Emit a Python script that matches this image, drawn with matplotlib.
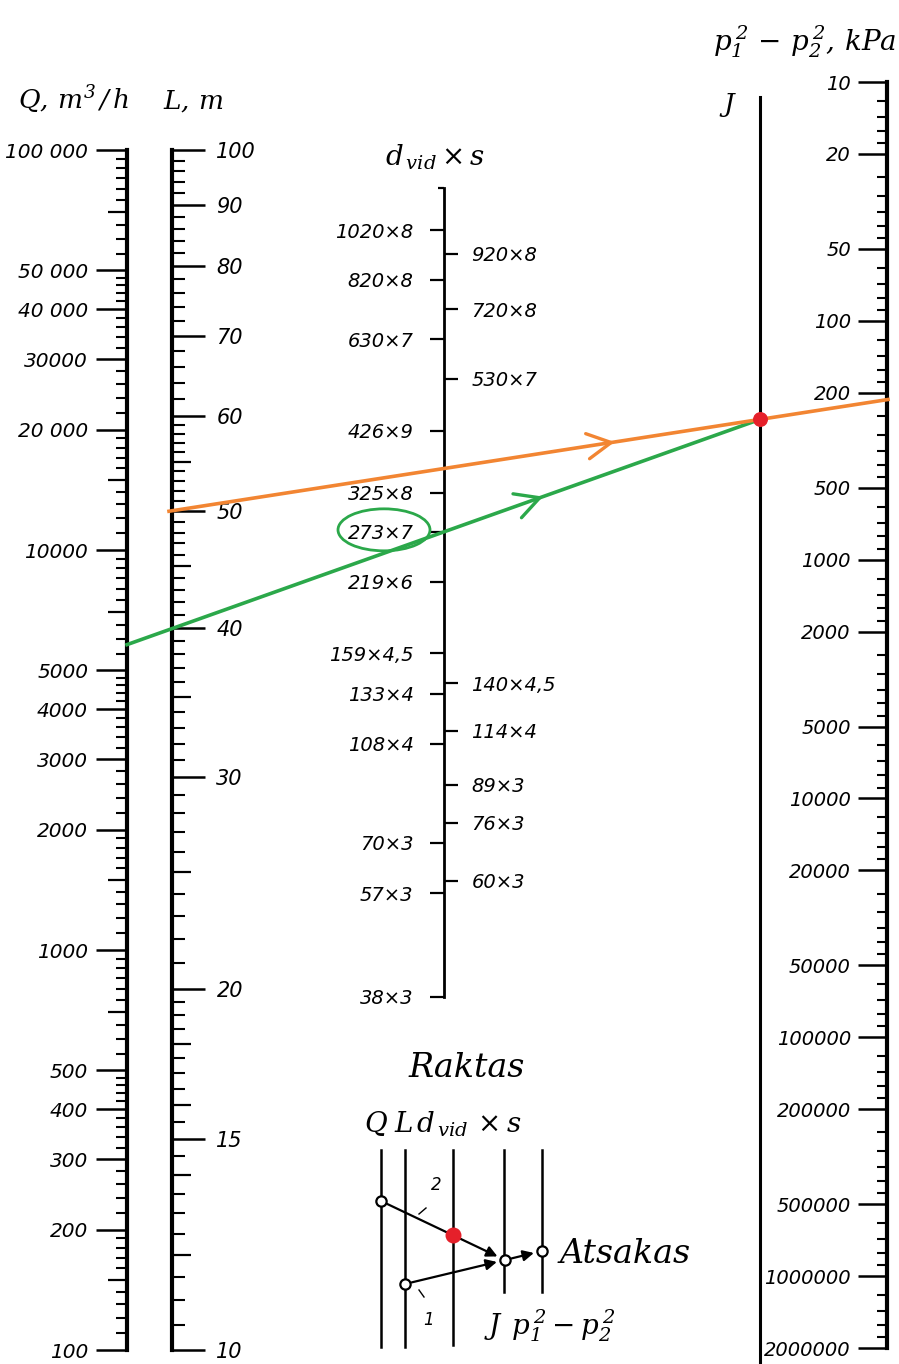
import matplotlib
matplotlib.use('Agg')
import matplotlib.pyplot as plt
import numpy as np
from matplotlib.patches import Ellipse
from matplotlib.ticker import FixedLocator, FixedFormatter, NullFormatter, NullLocator

plt.rcParams['mathtext.fontset'] = 'dejavuserif'
plt.rcParams['font.family'] = ['DejaVu Sans']
plt.rcParams['font.style'] = 'italic'

W, H = 899, 1364

# Q, m3/h scale
q_major = [100, 200, 300, 400, 500, 1000, 2000, 3000, 4000, 5000,
           10000, 20000, 30000, 40000, 50000, 100000]
q_labels = ['100', '200', '300', '400', '500', '1000', '2000', '3000', '4000', '5000',
            '10000', '20 000', '30000', '40 000', '50 000', '100 000']
q_mid = [150, 700, 1500, 7000, 15000, 70000]

# L, m scale
l_major = [10, 15, 20, 30, 40, 50, 60, 70, 80, 90, 100]
l_labels = ['10', '15', '20', '30', '40', '50', '60', '70', '80', '90', '100']
l_mid = [12, 14, 16, 18, 25, 35, 45, 55]

# p1^2 - p2^2, kPa scale (grows downwards)
p_major = [10, 20, 50, 100, 200, 500, 1000, 2000, 5000, 10000, 20000, 50000,
           100000, 200000, 500000, 1000000, 2000000]
p_labels = ['10', '20', '50', '100', '200', '500', '1000', '2000', '5000', '10000',
            '20000', '50000', '100000', '200000', '500000', '1000000', '2000000']

# pipes d x s (outer diameter, wall), left and right of the scale
d_left_outer = [1020, 820, 630, 426, 325, 273, 219, 159, 133, 108, 70, 57, 38]
d_left_wall = [8, 8, 7, 9, 8, 7, 6, 4.5, 4, 4, 3, 3, 3]
d_right_outer = [920, 720, 530, 140, 114, 89, 76, 60]
d_right_wall = [8, 8, 7, 4.5, 4, 3, 3, 3]

# worked example
q_example = 5800
d_example = (273, 7)
l_example = 50

fig = plt.figure(figsize=(W / 100, H / 100), dpi=100)


def fine_ticks(lo, hi, pattern, skip):
    """graduation marks between the labelled ones"""
    vals = []
    k = 10.0 ** np.floor(np.log10(lo))
    while k < hi:
        for a, b, step in pattern:
            for m in np.arange(a, b - 1e-9, step):
                v = round(m * k, 6)
                if lo <= v <= hi and not any(np.isclose(v, s) for s in skip):
                    vals.append(v)
        k *= 10
    return vals


def bare_axes(x, y_top, y_bot, lims, side):
    left = x if side == 'left' else x - 1
    ax = fig.add_axes([left / W, 1 - y_bot / H, 1 / W, (y_bot - y_top) / H])
    ax.set_yscale('log')
    ax.set_ylim(*lims)
    ax.set_xlim(0, 1)
    ax.patch.set_visible(False)
    ax.set_xticks([])
    for s in ax.spines.values():
        s.set_visible(False)
    if side == 'right':
        ax.yaxis.tick_right()
    ax.yaxis.set_minor_locator(NullLocator())
    ax.yaxis.set_minor_formatter(NullFormatter())
    return ax


def scale_axis(x, y_top, y_bot, lims, side, major, labels, mid, fine,
               lens=(22, 14, 8), pad=6, size=14, spine_w=3.0):
    ax = bare_axes(x, y_top, y_bot, lims, side)
    ax.spines[side].set_visible(True)
    ax.spines[side].set_linewidth(spine_w)
    ax.yaxis.set_major_locator(FixedLocator(major))
    ax.yaxis.set_major_formatter(FixedFormatter(labels))
    ax.yaxis.set_minor_locator(FixedLocator(fine))
    ax.tick_params(axis='y', which='major', length=lens[0], width=1.8, pad=pad,
                   labelsize=size)
    ax.tick_params(axis='y', which='minor', length=lens[2], width=1.5)
    if mid:
        ax_mid = bare_axes(x, y_top, y_bot, lims, side)
        ax_mid.yaxis.set_major_locator(FixedLocator(mid))
        ax_mid.yaxis.set_major_formatter(NullFormatter())
        ax_mid.tick_params(axis='y', which='major', length=lens[1], width=1.6)
    return ax


q_fine = fine_ticks(100, 100000, [(1, 2, 0.1), (2, 5, 0.2), (5, 10, 0.5)], q_major + q_mid)
l_fine = fine_ticks(10, 100, [(1, 2, 0.05), (2, 6, 0.1), (6, 10, 0.2)], l_major + l_mid)
p_fine = fine_ticks(10, 2000000, [(1, 2, 0.2), (2, 5, 0.5), (5, 10, 1)], p_major)

ax_q = scale_axis(127, 150, 1350, (100, 100000), 'left', q_major, q_labels, q_mid, q_fine,
                  lens=(22, 14, 8), pad=6, size=14.5)
ax_l = scale_axis(172, 150, 1350, (10, 100), 'right', l_major, l_labels, l_mid, l_fine,
                  lens=(24, 14, 9), pad=8, size=15)
ax_p = scale_axis(887, 82, 1348, (2000000, 10), 'left', p_major, p_labels, [], p_fine,
                  lens=(21, 12, 7), pad=5, size=14)

# J turning axis, no graduation
ax_j = bare_axes(760, 97, 1362, (1, 10), 'left')
ax_j.spines['left'].set_visible(True)
ax_j.spines['left'].set_linewidth(2.2)
ax_j.set_yticks([])


# pipe scale, log of inner diameter
def pipe_label(o, s):
    return '{}×{}'.format(o, ('%g' % s).replace('.', ','))


d_left_in = [o - 2 * s for o, s in zip(d_left_outer, d_left_wall)]
d_right_in = [o - 2 * s for o, s in zip(d_right_outer, d_right_wall)]

ax_d = bare_axes(444, 188, 997, (32, 1215), 'left')
ax_d.spines['left'].set_visible(True)
ax_d.spines['left'].set_linewidth(2.0)
ax_d.yaxis.set_major_locator(FixedLocator(d_left_in))
ax_d.yaxis.set_major_formatter(FixedFormatter(
    [pipe_label(o, s) for o, s in zip(d_left_outer, d_left_wall)]))
ax_d.yaxis.set_minor_locator(FixedLocator([1215]))
ax_d.tick_params(axis='y', which='major', length=10, width=1.6, pad=12, labelsize=14)
ax_d.tick_params(axis='y', which='minor', length=4, width=1.6)

ax_d2 = bare_axes(444, 188, 997, (32, 1215), 'left')
ax_d2.yaxis.tick_right()
ax_d2.yaxis.set_major_locator(FixedLocator(d_right_in))
ax_d2.yaxis.set_major_formatter(FixedFormatter(
    [pipe_label(o, s) for o, s in zip(d_right_outer, d_right_wall)]))
ax_d2.tick_params(axis='y', which='major', length=9, width=1.6, pad=10, labelsize=14)

# overlay in pixel units for the key lines and texts
over = fig.add_axes([0, 0, 1, 1])
over.set_xlim(0, W)
over.set_ylim(H, 0)
over.axis('off')
over.patch.set_visible(False)
over.set_zorder(5)


def point_on(ax, value, xd=0.0):
    disp = ax.transData.transform((xd, value))
    return over.transData.inverted().transform(disp)


def line_at_x(p0, p1, x):
    k = (p1[1] - p0[1]) / (p1[0] - p0[0])
    return np.array([x, p0[1] + k * (x - p0[0])])


def chevron(p0, p1, frac, color, length=27, ang=28):
    p0, p1 = np.asarray(p0), np.asarray(p1)
    tip = p0 + frac * (p1 - p0)
    back = -(p1 - p0) / np.hypot(*(p1 - p0))
    arms = []
    for a in (ang, -ang):
        r = np.radians(a)
        v = np.array([back[0] * np.cos(r) - back[1] * np.sin(r),
                      back[0] * np.sin(r) + back[1] * np.cos(r)])
        arms.append(tip + length * v)
    over.plot([arms[0][0], tip[0], arms[1][0]], [arms[0][1], tip[1], arms[1][1]],
              color=color, lw=2.4, solid_capstyle='round', solid_joinstyle='round')


orange = '#F28532'
green = '#2BA84A'

q_pt = point_on(ax_q, q_example)
d_pt = point_on(ax_d, d_example[0] - 2 * d_example[1])
j_x = point_on(ax_j, 1)[0]
j_pt = line_at_x(q_pt, d_pt, j_x)
l_pt = point_on(ax_l, l_example, xd=1) - np.array([3, 0])
p_pt = line_at_x(l_pt, j_pt, point_on(ax_p, 10)[0] + 1)

over.plot([q_pt[0], j_pt[0]], [q_pt[1], j_pt[1]], color=green, lw=2.6)
over.plot([l_pt[0], p_pt[0]], [l_pt[1], p_pt[1]], color=orange, lw=2.6)
chevron(l_pt, p_pt, 0.615, orange)
chevron(q_pt, j_pt, 0.652, green)
over.scatter([j_pt[0]], [j_pt[1]], s=95, color='#E5202A', zorder=6)
over.add_patch(Ellipse((384, d_pt[1] - 2), 92, 42, fill=False, ec=green, lw=2.0))

# axis titles
over.text(18, 100, r'$Q,\,m^3\,/\,h$', fontsize=19, va='center', ha='left')
over.text(163, 102, r'$L,\,m$', fontsize=19, va='center', ha='left')
over.text(385, 157, r'$d_{\,vid}\times s$', fontsize=20, va='center', ha='left')
over.text(897, 42, r'$p_1^{\,2}\,-\,p_2^{\,2},\,kPa$', fontsize=20, va='center', ha='right')
over.text(728, 105, r'$J$', fontsize=19, va='center', ha='center')

# key scheme at the bottom
ins_x = [381, 405, 453, 504, 542]
ins_bot = [1347, 1347, 1345, 1292, 1292]
for x, yb in zip(ins_x, ins_bot):
    over.plot([x, x], [1150, yb], color='k', lw=1.8)

k_q = np.array([ins_x[0], 1201])
k_l = np.array([ins_x[1], 1284])
k_j = np.array([ins_x[3] + 1, 1260])
k_p = np.array([ins_x[4], 1251])
k_d = line_at_x(k_q, k_j, ins_x[2])

arrow = dict(arrowstyle='-|>', color='k', lw=1.6, mutation_scale=16, shrinkA=5, shrinkB=6)
over.annotate('', xy=k_j, xytext=k_q, arrowprops=arrow)
over.annotate('', xy=k_j, xytext=k_l, arrowprops=arrow)
over.annotate('', xy=k_p, xytext=k_j, arrowprops=arrow)
over.scatter([k_q[0], k_l[0], k_j[0], k_p[0]], [k_q[1], k_l[1], k_j[1], k_p[1]],
             s=55, facecolor='white', edgecolor='k', linewidth=1.6, zorder=6)
over.scatter([k_d[0]], [k_d[1]], s=110, color='#E5202A', zorder=6)
over.plot([419, 426], [1214, 1208], color='k', lw=1.0)
over.plot([419, 424], [1290, 1297], color='k', lw=1.0)
over.text(436, 1185, '2', fontsize=12, ha='center', va='center')
over.text(428, 1320, '1', fontsize=12, ha='center', va='center')

over.text(467, 1068, 'Raktas', fontsize=24, family='DejaVu Serif', ha='center', va='center')
over.text(560, 1254, 'Atsakas', fontsize=24, family='DejaVu Serif', ha='left', va='center')
over.text(364, 1124, r'$Q\;L\,d_{\,vid}\,\times s$', fontsize=20, ha='left', va='center')
over.text(484, 1326, r'$J\;\,p_1^{\,2}-p_2^{\,2}$', fontsize=20, ha='left', va='center')

fig.savefig('out.png', dpi=100, facecolor='white')
